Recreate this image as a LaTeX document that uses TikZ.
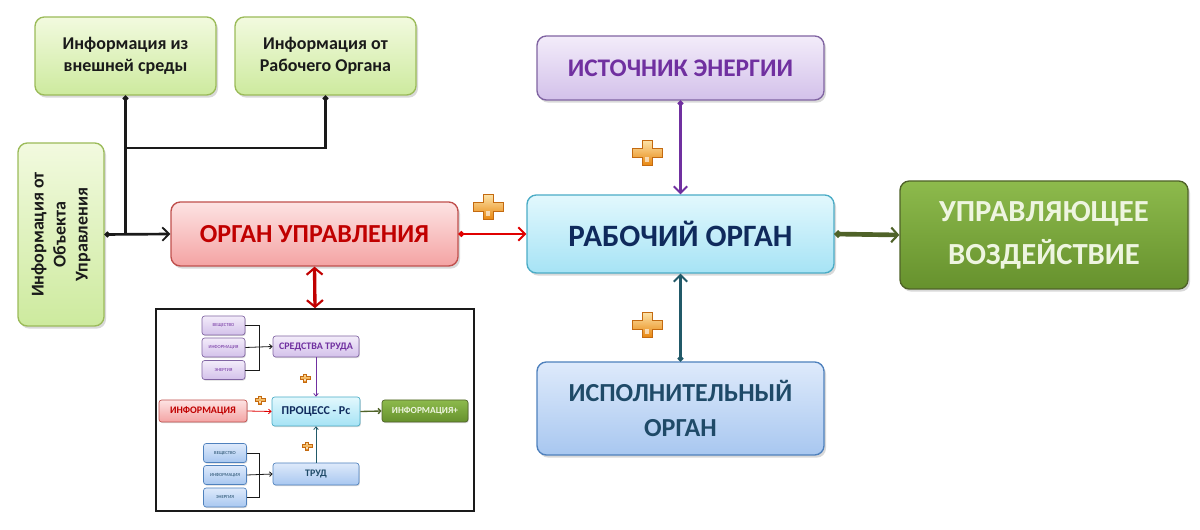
\documentclass[tikz,border=0pt]{standalone}
\usepackage{fontspec}
\setmainfont{Carlito}
\usetikzlibrary{arrows.meta,shadows}
\definecolor{grBd}{HTML}{9BBB59}
\definecolor{grT}{HTML}{F2FADF}
\definecolor{grB}{HTML}{CDEA9E}
\definecolor{rdBd}{HTML}{C0504D}
\definecolor{rdT}{HTML}{FDE3E3}
\definecolor{rdB}{HTML}{F4A3A3}
\definecolor{rdTx}{HTML}{C00000}
\definecolor{cyBd}{HTML}{4BACC6}
\definecolor{cyT}{HTML}{E2F8FD}
\definecolor{cyB}{HTML}{A6E3F5}
\definecolor{cyTx}{HTML}{0F2A5C}
\definecolor{puBd}{HTML}{8064A2}
\definecolor{puT}{HTML}{F3ECFA}
\definecolor{puB}{HTML}{D3C1EA}
\definecolor{puTx}{HTML}{7030A0}
\definecolor{blBd}{HTML}{4F81BD}
\definecolor{blT}{HTML}{DEEAFB}
\definecolor{blB}{HTML}{A8C7F0}
\definecolor{blTx}{HTML}{1F4A68}
\definecolor{gnBd}{HTML}{4F6228}
\definecolor{gnT}{HTML}{8DBA4C}
\definecolor{gnB}{HTML}{66912D}
\definecolor{gnTx}{HTML}{EEF5E0}
\definecolor{lnK}{HTML}{1A1A1A}
\definecolor{lnR}{HTML}{E00000}
\definecolor{lnP}{HTML}{7030A0}
\definecolor{lnT}{HTML}{215968}
\definecolor{lnG}{HTML}{4F6228}
\definecolor{lnDR}{HTML}{C00000}
\definecolor{plT}{HTML}{FCE2A6}
\definecolor{plB}{HTML}{E8860F}
\definecolor{plD}{HTML}{C46A10}
\tikzset{
  box/.style={rounded corners=7pt, draw, line width=1pt, align=center, inner sep=2pt,
    drop shadow={opacity=0.3, shadow xshift=1.5pt, shadow yshift=-2pt}},
  greenbox/.style={box, draw=grBd, top color=grT, bottom color=grB, text=lnK,
    font=\fontsize{13.5}{16.5}\selectfont\bfseries, minimum width=135.75pt, minimum height=58.5pt},
  redbox/.style={box, draw=rdBd, top color=rdT, bottom color=rdB, text=rdTx},
  cyanbox/.style={box, draw=cyBd, top color=cyT, bottom color=cyB, text=cyTx},
  purplebox/.style={box, draw=puBd, top color=puT, bottom color=puB, text=puTx},
  bluebox/.style={box, draw=blBd, top color=blT, bottom color=blB, text=blTx},
  darkgreenbox/.style={box, draw=gnBd, top color=gnT, bottom color=gnB, text=gnTx},
  minibox/.style={rounded corners=2pt, draw, line width=0.5pt, align=center, inner sep=1pt,
    drop shadow={opacity=0.3, shadow xshift=0.6pt, shadow yshift=-0.8pt}},
  tinybox/.style={minibox, minimum width=32.25pt, minimum height=14.25pt,
    font=\fontsize{3.5}{4}\selectfont},
  conn/.style={line width=2pt},
  dotstart/.style={{Circle[length=4pt]}-{Straight Barb[length=5pt,width=10pt,line width=1.4pt]}},
  smallconn/.style={line width=0.6pt, -{Straight Barb[length=2pt,width=3.5pt]}},
  orangeplus/.pic={
    \draw[top color=plT, bottom color=plB, draw=plD, line width=0.5pt]
      (-5,-12.5)--(5,-12.5)--(5,-4.5)--(15,-4.5)--(15,4.5)--(5,4.5)--(5,12.5)
      --(-5,12.5)--(-5,4.5)--(-15,4.5)--(-15,-4.5)--(-5,-4.5)--cycle;
    \fill[white,opacity=0.6] (-2,4)--(2,4)--(2,9)--(-2,9)--cycle;
  }
}
\begin{document}
\begin{tikzpicture}[x=0.75pt,y=-0.75pt]
\useasboundingbox (0,0) rectangle (1200,530);
% main boxes
\node[greenbox] (A) at (125.5,56) {Информация из\\внешней среды};
\node[greenbox] (B) at (325.5,56) {Информация от\\Рабочего Органа};
\node[greenbox, rotate=90, minimum width=137.25pt, minimum height=64.5pt] (C) at (61,234.5)
  {Информация от\\Объекта\\Управления};
\node[redbox, minimum width=215.25pt, minimum height=48pt,
  font=\fontsize{19.5}{22}\selectfont\bfseries] (OU) at (314.5,234) {ОРГАН УПРАВЛЕНИЯ};
\node[cyanbox, minimum width=230.25pt, minimum height=58.5pt,
  font=\fontsize{23.3}{26}\selectfont\bfseries] (RO) at (680.5,234) {РАБОЧИЙ ОРГАН};
\node[purplebox, minimum width=215.25pt, minimum height=48pt,
  font=\fontsize{19}{22}\selectfont\bfseries] (IE) at (680.5,68) {ИСТОЧНИК ЭНЕРГИИ};
\node[bluebox, minimum width=215.25pt, minimum height=69.75pt,
  font=\fontsize{19.5}{26}\selectfont\bfseries] (IO) at (680.5,408.5) {ИСПОЛНИТЕЛЬНЫЙ\\ОРГАН};
\node[darkgreenbox, minimum width=216pt, minimum height=81pt,
  font=\fontsize{23}{32}\selectfont\bfseries] (UV) at (1044,235) {УПРАВЛЯЮЩЕЕ\\ВОЗДЕЙСТВИЕ};
% frame of inner picture
\node[draw=lnK, line width=1.2pt, minimum width=238.5pt, minimum height=151.5pt, inner sep=0pt]
  (FR) at (315,410) {};
% main connectors
\coordinate (J1) at (A.south |- OU.west);
\coordinate (J2) at (A.south |- 0,148);
\coordinate (J3) at (B.south |- 0,148);
\draw[conn, lnK, {Circle[length=4pt]}-] (A.south) -- (J1);
\draw[conn, lnK, {Circle[length=4pt]}-] (B.south) -- (J3) -- (J2);
\draw[conn, lnK, dotstart] (C.south) -- (OU.west);
\draw[conn, lnR, dotstart] (OU.east) -- (RO.west);
\draw[conn, lnP, dotstart] (IE.south) -- (RO.north);
\draw[conn, lnT, dotstart] (IO.north) -- (RO.south);
\draw[line width=3.5pt, lnG, {Circle[length=5pt]}-{Straight Barb[length=5pt,width=11pt,line width=1.6pt]}]
  (RO.east) -- (UV.west);
\draw[line width=2.5pt, lnDR, {Straight Barb[length=5pt,width=12pt,line width=1.6pt]}-{Straight Barb[length=5pt,width=12pt,line width=1.6pt]}]
  (OU.south) -- (FR.north);
% pluses
\pic at (647,153) {orangeplus};
\pic at (488,207) {orangeplus};
\pic at (647,325) {orangeplus};
% inner diagram
\node[tinybox, draw=puBd, top color=puT, bottom color=puB, text=puTx] (pv) at (223.5,325.5) {ВЕЩЕСТВО};
\node[tinybox, draw=puBd, top color=puT, bottom color=puB, text=puTx] (pi) at (223.5,347.5) {ИНФОРМАЦИЯ};
\node[tinybox, draw=puBd, top color=puT, bottom color=puB, text=puTx] (pe) at (223.5,370) {ЭНЕРГИЯ};
\node[minibox, draw=puBd, top color=puT, bottom color=puB, text=puTx, minimum width=64.5pt,
  minimum height=15.75pt, font=\fontsize{7.5}{8}\selectfont\bfseries] (ST) at (316,346.5) {СРЕДСТВА ТРУДА};
\node[minibox, draw=cyBd, top color=cyT, bottom color=cyB, text=cyTx, minimum width=66pt,
  minimum height=21.75pt, font=\fontsize{9}{10}\selectfont\bfseries] (PR) at (316,411.5) {ПРОЦЕСС - Рс};
\node[minibox, draw=rdBd, top color=rdT, bottom color=rdB, text=rdTx, minimum width=66pt,
  minimum height=16.5pt, font=\fontsize{7.5}{8}\selectfont\bfseries] (INF) at (203,411) {ИНФОРМАЦИЯ};
\node[minibox, draw=gnBd, top color=gnT, bottom color=gnB, text=gnTx, minimum width=64.5pt,
  minimum height=16.5pt, font=\fontsize{7}{8}\selectfont\bfseries] (INFP) at (425,411) {ИНФОРМАЦИЯ+};
\node[tinybox, draw=blBd, top color=blT, bottom color=blB, text=blTx] (bv) at (225,453) {ВЕЩЕСТВО};
\node[tinybox, draw=blBd, top color=blT, bottom color=blB, text=blTx] (bi) at (225,475) {ИНФОРМАЦИЯ};
\node[tinybox, draw=blBd, top color=blT, bottom color=blB, text=blTx] (be) at (225,497.5) {ЭНЕРГИЯ};
\node[minibox, draw=blBd, top color=blT, bottom color=blB, text=blTx, minimum width=64.5pt,
  minimum height=16.5pt, font=\fontsize{7.5}{8}\selectfont\bfseries] (TR) at (316,474) {ТРУД};
% inner connectors
\coordinate (k1) at (259,0);
\draw[line width=0.6pt, lnK] (pv.east) -| (k1 |- pe.east) -- (pe.east);
\draw[smallconn, lnK] (pi.east) -- (ST.west);
\draw[line width=0.6pt, lnK] (bv.east) -| (k1 |- be.east) -- (be.east);
\draw[smallconn, lnK] (bi.east) -- (TR.west);
\draw[smallconn, puTx] (ST.south) -- (PR.north);
\draw[smallconn, lnT] (TR.north) -- (PR.south);
\draw[smallconn, lnR] (INF.east) -- (PR.west);
\draw[line width=1pt, lnG, -{Straight Barb[length=2pt,width=4pt]}] (PR.east) -- (INFP.west);
\pic[scale=0.33] at (305,378) {orangeplus};
\pic[scale=0.33] at (260,400) {orangeplus};
\pic[scale=0.33] at (307,446) {orangeplus};
\end{tikzpicture}
\end{document}
